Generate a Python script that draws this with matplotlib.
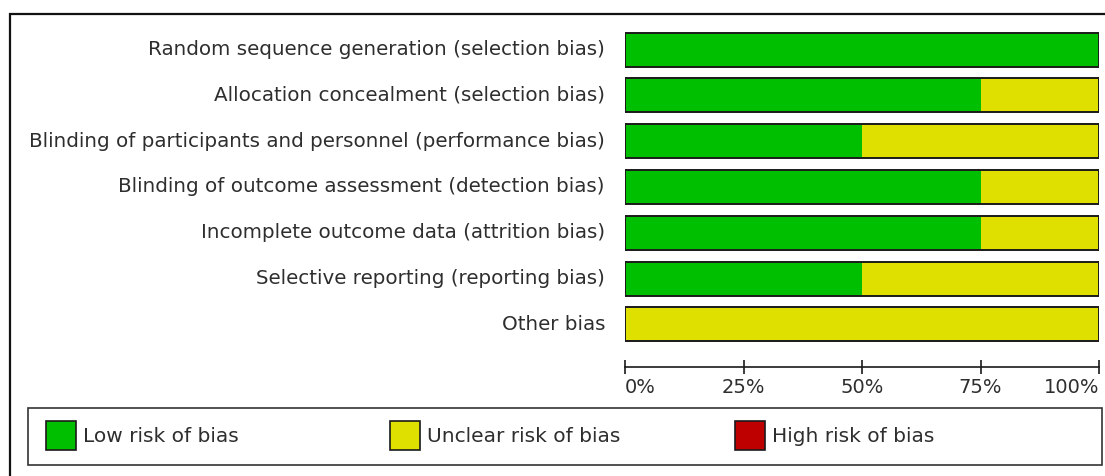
import matplotlib
matplotlib.use("Agg")
import matplotlib.pyplot as plt
from matplotlib.patches import Rectangle
import numpy as np

domains = [
    "Random sequence generation (selection bias)",
    "Allocation concealment (selection bias)",
    "Blinding of participants and personnel (performance bias)",
    "Blinding of outcome assessment (detection bias)",
    "Incomplete outcome data (attrition bias)",
    "Selective reporting (reporting bias)",
    "Other bias",
]
low_risk = [100, 75, 50, 75, 75, 50, 0]
unclear_risk = [0, 25, 50, 25, 25, 50, 100]
high_risk = [0, 0, 0, 0, 0, 0, 0]
tick_values = [0, 25, 50, 75, 100]
tick_labels = ["0%", "25%", "50%", "75%", "100%"]
legend_labels = ["Low risk of bias", "Unclear risk of bias", "High risk of bias"]
colors = ["#00BF00", "#DFDF00", "#BF0000"]

W, H = 1105, 476
fig = plt.figure(figsize=(W / 100, H / 100), dpi=100)
plt.rcParams["font.family"] = ["DejaVu Sans"]
FS = 14.5
FS_LAB = 14.3
TXT = "#2e2e2e"

def fx(px):
    return px / W

def fy(py):
    return 1 - py / H

# axes: x 625..1099 px, y 32..367 px
ax = fig.add_axes([fx(625), fy(367), fx(1099) - fx(625), fy(32) - fy(367)])
n = len(domains)
spacing = 45.8
top_off = (49.5 - 32) / spacing
bot_off = (367 - 49.5) / spacing
ax.set_ylim(bot_off, -top_off)
ax.set_xlim(0, 100)
y = np.arange(n)
bh = 34 / spacing

left = np.zeros(n)
for vals, c in zip([low_risk, unclear_risk, high_risk], colors):
    v = np.array(vals, dtype=float)
    ax.barh(y, v, left=left, height=bh, color=c, edgecolor="none", linewidth=0)
    left += v
ax.barh(y, left, height=bh, fill=False, edgecolor="#1a1a1a", linewidth=1.4)

ax.set_yticks([])
for i, d in enumerate(domains):
    ax.text(-20 / 474 * 100, i, d, ha="right", va="center", fontsize=FS_LAB, color=TXT,
            transform=ax.transData, clip_on=False)

for s in ["top", "right", "left"]:
    ax.spines[s].set_visible(False)
ax.spines["bottom"].set_linewidth(1.2)
ax.spines["bottom"].set_color("#1a1a1a")
ax.set_xticks(tick_values)
ax.set_xticklabels(tick_labels, fontsize=14, color=TXT)
ax.tick_params(axis="x", direction="inout", length=10, width=1.2, color="#1a1a1a", pad=3)
tl = ax.get_xticklabels()
tl[0].set_horizontalalignment("left")
tl[-1].set_horizontalalignment("right")
ax.patch.set_visible(False)

# outer frame
fig.patches.append(Rectangle((fx(10), fy(600)), fx(1200) - fx(10), fy(14) - fy(600),
                             transform=fig.transFigure, fill=False, edgecolor="#111111",
                             linewidth=1.6, clip_on=False))
# legend box
fig.patches.append(Rectangle((fx(28), fy(465)), fx(1102) - fx(28), fy(408) - fy(465),
                             transform=fig.transFigure, fill=False, edgecolor="#333333",
                             linewidth=1.2))
patch_x = [46, 390, 735]
for lx, lab, c in zip(patch_x, legend_labels, colors):
    fig.patches.append(Rectangle((fx(lx), fy(450)), fx(30), 29 / H,
                                 transform=fig.transFigure, facecolor=c,
                                 edgecolor="#1a1a1a", linewidth=1.2))
    fig.text(fx(lx + 37), fy(436), lab, ha="left", va="center", fontsize=FS, color=TXT)

fig.savefig("out.png", dpi=100)
